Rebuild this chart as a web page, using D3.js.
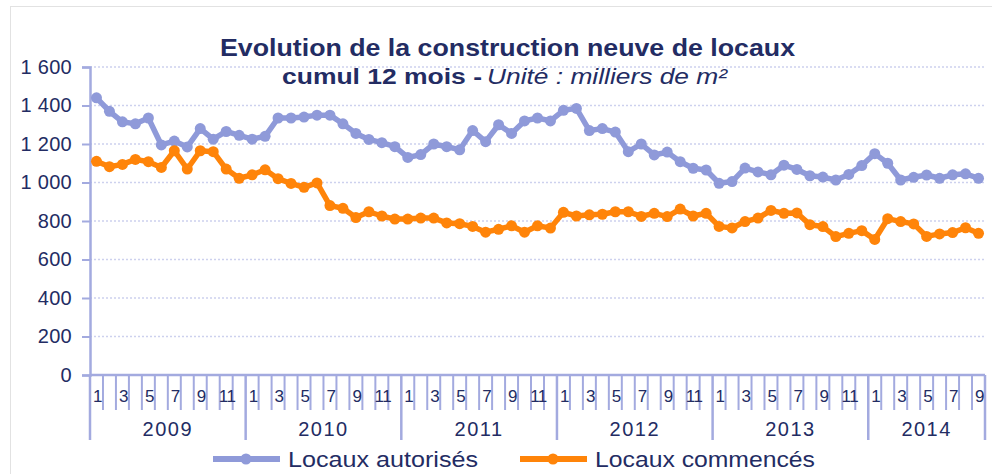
<!DOCTYPE html>
<html>
<head>
<meta charset="utf-8">
<script src="https://cdn.jsdelivr.net/npm/d3@7"></script>
<style>
  body { margin: 0; background: #fff; }
  svg { font-family: "Liberation Sans", Arial, sans-serif; }
</style>
</head>
<body>
<div id="chart"></div>
<script>
// data, monthly, jan 2009 -> sep 2014
var years = ["2009", "2010", "2011", "2012", "2013", "2014"];
var monthLabels = ["1", "", "3", "", "5", "", "7", "", "9", "", "11", ""];
var yTicks = [0, 200, 400, 600, 800, 1000, 1200, 1400, 1600];

var autorises = [
  1440, 1370, 1315, 1305, 1335, 1195, 1215, 1185, 1280, 1225, 1265, 1245,
  1225, 1240, 1335, 1335, 1340, 1350, 1350, 1305, 1255, 1224, 1207, 1186,
  1130, 1145, 1200, 1186, 1170, 1270, 1212, 1300, 1255, 1320, 1335, 1320,
  1375, 1385, 1270, 1280, 1262, 1160, 1200, 1143, 1158, 1108, 1074, 1065,
  996, 1005, 1075, 1055, 1040, 1090, 1068, 1035, 1028, 1013, 1042, 1088,
  1150, 1100, 1013, 1027, 1039, 1022, 1040, 1045, 1022
];
var commences = [
  1110, 1082, 1094, 1120, 1108, 1078, 1165, 1070, 1165, 1160, 1070, 1022,
  1040, 1066, 1020, 995, 975, 998, 880, 866, 818, 848, 826, 810,
  810, 815, 815, 790, 786, 772, 742, 757, 775, 742, 775, 763,
  845, 826, 832, 835, 848, 848, 824, 840, 823, 862, 826, 840,
  772, 764, 797, 815, 855, 840, 842, 781, 771, 719, 736, 750,
  704, 812, 797, 785, 720, 733, 740, 765, 736
];

var series = [
  {name: "Locaux autorisés", values: autorises, color: "#8F9AD9"},
  {name: "Locaux commencés", values: commences, color: "#FF8409"}
];

var textColor = "#232C63";
var axisColor = "#A3AADF";
var gridColor = "#CDD1EE";

var width = 992, height = 474;
var plotLeft = 90, plotRight = 985, plotTop = 67, plotBottom = 375;

var svg = d3.select("#chart").append("svg")
  .attr("width", width).attr("height", height);

// light frame
svg.append("rect")
  .attr("x", 10.5).attr("y", 6.5)
  .attr("width", 985).attr("height", 470)
  .attr("fill", "#fff")
  .attr("stroke", "#E2E2E2");

var idx = d3.range(autorises.length);
var x = d3.scaleBand().domain(idx).range([plotLeft, plotRight]);
var y = d3.scaleLinear().domain([0, 1600]).range([plotBottom, plotTop]);

var fr = d3.formatLocale({decimal: ",", thousands: " ", grouping: [3], currency: ["", "€"]});
var fmt = fr.format(",d");

// gridlines
svg.append("g")
  .selectAll("line")
  .data(yTicks.filter(function(d){ return d > 0; }))
  .enter().append("line")
  .attr("x1", plotLeft).attr("x2", plotRight)
  .attr("y1", function(d){ return y(d); })
  .attr("y2", function(d){ return y(d); })
  .attr("stroke", gridColor)
  .attr("stroke-width", 1.5)
  .attr("stroke-dasharray", "2,2");

// y axis
var yAxis = svg.append("g")
  .attr("transform", "translate(" + plotLeft + ",0)")
  .call(d3.axisLeft(y).tickValues(yTicks).tickSize(8).tickPadding(10).tickFormat(fmt));
yAxis.select(".domain").attr("stroke", axisColor).attr("stroke-width", 2.5);
yAxis.selectAll(".tick line").attr("stroke", axisColor).attr("stroke-width", 2);
yAxis.selectAll(".tick text")
  .attr("fill", textColor)
  .style("font-size", "20px")
  .style("letter-spacing", "0.3px");

// x axis base line
svg.append("line")
  .attr("x1", plotLeft).attr("x2", plotRight)
  .attr("y1", plotBottom).attr("y2", plotBottom)
  .attr("stroke", axisColor).attr("stroke-width", 2.5);

// month ticks and year separators
var bw = x.bandwidth();
var bounds = d3.range(idx.length + 1);
svg.append("g")
  .selectAll("line")
  .data(bounds)
  .enter().append("line")
  .attr("x1", function(i){ return plotLeft + i * bw; })
  .attr("x2", function(i){ return plotLeft + i * bw; })
  .attr("y1", plotBottom)
  .attr("y2", function(i){ return (i % 12 === 0 || i === idx.length) ? 440 : 410; })
  .attr("stroke", axisColor)
  .attr("stroke-width", function(i){ return (i % 12 === 0 || i === idx.length) ? 2.5 : 2; });

svg.append("g")
  .selectAll("text")
  .data(idx.filter(function(i){ return monthLabels[i % 12] !== ""; }))
  .enter().append("text")
  .attr("x", function(i){ return x(i) + bw / 2 + 1; })
  .attr("y", 402)
  .attr("text-anchor", "middle")
  .attr("fill", textColor)
  .style("font-size", "17px")
  .style("letter-spacing", "-0.5px")
  .text(function(i){ return monthLabels[i % 12]; });

svg.append("g")
  .selectAll("text")
  .data(years)
  .enter().append("text")
  .attr("x", function(d, i){
    var a = i * 12, b = Math.min(a + 12, idx.length);
    return plotLeft + (a + b) / 2 * bw;
  })
  .attr("y", 436)
  .attr("text-anchor", "middle")
  .attr("fill", textColor)
  .style("font-size", "20px")
  .style("letter-spacing", "1.5px")
  .text(function(d){ return d; });

// lines + markers
var line = d3.line()
  .x(function(d, i){ return x(i) + bw / 2; })
  .y(function(d){ return y(d); });

series.forEach(function(s){
  var g = svg.append("g");
  g.append("path")
    .datum(s.values)
    .attr("d", line)
    .attr("fill", "none")
    .attr("stroke", s.color)
    .attr("stroke-width", 5.5)
    .attr("stroke-linejoin", "round");
  g.selectAll("circle")
    .data(s.values)
    .enter().append("circle")
    .attr("cx", function(d, i){ return x(i) + bw / 2; })
    .attr("cy", function(d){ return y(d); })
    .attr("r", 5.5)
    .attr("fill", s.color);
});

// title
svg.append("text")
  .attr("x", 220).attr("y", 56)
  .attr("fill", textColor)
  .attr("textLength", 575)
  .attr("lengthAdjust", "spacingAndGlyphs")
  .style("font-size", "24px")
  .style("font-weight", "bold")
  .text("Evolution de la construction neuve de locaux");
svg.append("text")
  .attr("x", 282).attr("y", 84)
  .attr("fill", textColor)
  .attr("textLength", 200)
  .attr("lengthAdjust", "spacingAndGlyphs")
  .style("font-size", "22px")
  .style("font-weight", "bold")
  .text("cumul 12 mois -");
svg.append("text")
  .attr("x", 487).attr("y", 84)
  .attr("fill", textColor)
  .attr("textLength", 240)
  .attr("lengthAdjust", "spacingAndGlyphs")
  .style("font-size", "22px")
  .style("font-style", "italic")
  .text("Unité : milliers de m²");

// legend
var legendX = [213, 520];
var legendW = [190, 220];
series.forEach(function(s, i){
  var lg = svg.append("g").attr("transform", "translate(" + legendX[i] + ",459)");
  lg.append("line")
    .attr("x1", 0).attr("x2", 67)
    .attr("stroke", s.color).attr("stroke-width", 6);
  lg.append("circle").attr("cx", 33).attr("r", 5.5).attr("fill", s.color);
  lg.append("text")
    .attr("x", 75).attr("y", 8)
    .attr("fill", textColor)
    .attr("textLength", legendW[i])
    .attr("lengthAdjust", "spacingAndGlyphs")
    .style("font-size", "22px")
    .text(s.name);
});
</script>
</body>
</html>
